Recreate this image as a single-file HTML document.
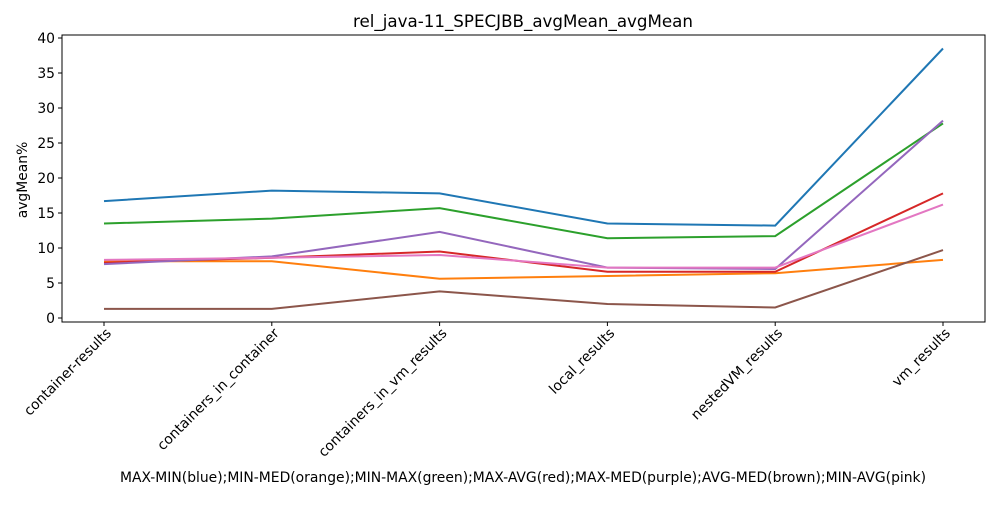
<!DOCTYPE html>
<html><head><meta charset="utf-8"><style>
body{margin:0;background:#fff;}
svg{font-family:"DejaVu Sans","Liberation Sans",sans-serif;}
</style></head><body>
<svg id="chart" width="1000" height="500">
<rect x="0" y="0" width="1000" height="500" fill="#fff"/>
<text x="523" y="27" font-size="16.7" text-anchor="middle">rel_java-11_SPECJBB_avgMean_avgMean</text>
<text transform="translate(27,180) rotate(-90)" font-size="13.9" text-anchor="middle">avgMean%</text>
<text x="523" y="482" font-size="13.9" text-anchor="middle">MAX-MIN(blue);MIN-MED(orange);MIN-MAX(green);MAX-AVG(red);MAX-MED(purple);AVG-MED(brown);MIN-AVG(pink)</text>
<g id="plot"></g>
</svg>
<script>
const categories=["container-results","containers_in_container","containers_in_vm_results","local_results","nestedVM_results","vm_results"];
const yTicks=[0,5,10,15,20,25,30,35,40];
const maxMin=[16.7,18.2,17.8,13.5,13.2,38.5];
const minMed=[8.1,8.1,5.6,6.0,6.4,8.3];
const minMax=[13.5,14.2,15.7,11.4,11.7,27.8];
const maxAvg=[7.9,8.6,9.5,6.6,6.6,17.8];
const maxMed=[7.7,8.8,12.3,7.2,7.0,28.2];
const avgMed=[1.3,1.3,3.8,2.0,1.5,9.7];
const minAvg=[8.3,8.6,9.0,7.2,7.2,16.2];
const series=[["max-min",maxMin,"#1f77b4"],["min-med",minMed,"#ff7f0e"],["min-max",minMax,"#2ca02c"],["max-avg",maxAvg,"#d62728"],["max-med",maxMed,"#9467bd"],["avg-med",avgMed,"#8c564b"],["min-avg",minAvg,"#e377c2"]];
const L=62,R=985,T=35,B=322;
const x=i=>104+i*(943-104)/(categories.length-1);
const y=v=>318-v*7;
const NS="http://www.w3.org/2000/svg";
const g=document.getElementById('plot');
function mk(t,a){const e=document.createElementNS(NS,t);for(const k in a)e.setAttribute(k,a[k]);g.appendChild(e);return e;}
yTicks.forEach(v=>{
 const tk=mk('line',{x1:L-4,x2:L,y1:y(v),y2:y(v),stroke:'#000'});
 
 
 const t=mk('text',{x:L-7,y:y(v)+5,'font-size':13.9,'text-anchor':'end'});
 t.textContent=v;
 
 
});
categories.forEach((c,i)=>{
 const tk=mk('line',{x1:x(i),x2:x(i),y1:B,y2:B+4,stroke:'#000'});
 
 
 const t=mk('text',{transform:`translate(${x(i)+8},${B+12}) rotate(-45)`,'font-size':13.9,'text-anchor':'end'});
 t.textContent=c;
 
 
});
series.forEach(([n,vals,col])=>{
 const p=mk('polyline',{points:vals.map((v,i)=>x(i)+','+y(v)).join(' '),fill:'none',stroke:col,'stroke-width':2});
 
 
});
const f=mk('rect',{x:L,y:T,width:R-L,height:B-T,fill:'none',stroke:'#000','stroke-width':1});


</script>
</body></html>
